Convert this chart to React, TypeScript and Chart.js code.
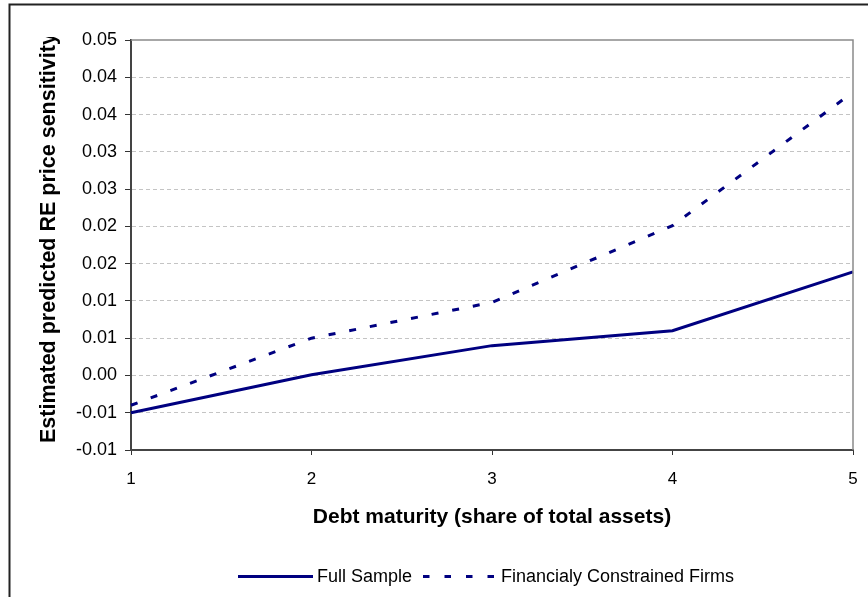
import React, { useEffect, useRef } from "react";
import { Chart, registerables } from "chart.js";

Chart.register(...registerables);

const categories = ["1", "2", "3", "4", "5"];
const fullSample = [-0.005, 0.0001, 0.004, 0.006, 0.0139];
const constrainedFirms = [-0.004, 0.005, 0.0098, 0.0201, 0.038];
const yTickLabels = ["-0.01", "-0.01", "0.00", "0.01", "0.01", "0.02", "0.02", "0.03", "0.03", "0.04", "0.04", "0.05"];
const seriesNames = ["Full Sample", "Financialy Constrained Firms"];
const xTitle = "Debt maturity (share of total assets)";
const yTitle = "Estimated predicted RE price sensitivity";

const NAVY = "#000080";
const FONT = "'Liberation Sans', Arial, sans-serif";

const decorPlugin = {
  id: "decor",
  afterDraw(chart: any) {
    const ctx = chart.ctx as CanvasRenderingContext2D;
    const ca = chart.chartArea;
    ctx.save();
    // plot frame (top & right)
    ctx.strokeStyle = "#8a8a8a";
    ctx.lineWidth = 1.5;
    ctx.beginPath();
    ctx.moveTo(ca.left, ca.top);
    ctx.lineTo(ca.right, ca.top);
    ctx.lineTo(ca.right, ca.bottom);
    ctx.stroke();
    // outer frame (left & top)
    ctx.strokeStyle = "#222";
    ctx.lineWidth = 2;
    ctx.beginPath();
    ctx.moveTo(9.5, 597);
    ctx.lineTo(9.5, 4.5);
    ctx.lineTo(868, 4.5);
    ctx.stroke();

    // x title
    ctx.fillStyle = "#000";
    ctx.font = `bold 21px ${FONT}`;
    ctx.textAlign = "center";
    ctx.textBaseline = "alphabetic";
    ctx.fillText(xTitle, (ca.left + ca.right) / 2, 523);

    // y title (clipped at top)
    ctx.save();
    ctx.beginPath();
    ctx.rect(0, 37, 125, 560);
    ctx.clip();
    ctx.font = `bold 21.5px ${FONT}`;
    ctx.translate(55, 443);
    ctx.rotate(-Math.PI / 2);
    ctx.textAlign = "left";
    ctx.fillText(yTitle, 0, 0);
    ctx.restore();

    // legend
    const ly = 576.5;
    ctx.strokeStyle = NAVY;
    ctx.lineWidth = 3;
    ctx.beginPath();
    ctx.moveTo(238, ly);
    ctx.lineTo(313, ly);
    ctx.stroke();
    ctx.setLineDash([6.5, 15]);
    ctx.beginPath();
    ctx.moveTo(423, ly);
    ctx.lineTo(494, ly);
    ctx.stroke();
    ctx.setLineDash([]);
    ctx.font = `18px ${FONT}`;
    ctx.textAlign = "left";
    ctx.fillStyle = "#000";
    ctx.fillText(chart.data.datasets[0].label, 317, 581.5);
    ctx.fillText(chart.data.datasets[1].label, 501, 581.5);
    ctx.restore();
  },
};

export default function App() {
  const ref = useRef<HTMLCanvasElement | null>(null);
  useEffect(() => {
    if (!ref.current) return;
    const chart = new Chart(ref.current, {
      type: "line",
      data: {
        labels: categories,
        datasets: [
          {
            label: seriesNames[0],
            data: fullSample,
            borderColor: NAVY,
            borderWidth: 3,
            pointRadius: 0,
            tension: 0,
            fill: false,
          },
          {
            label: seriesNames[1],
            data: constrainedFirms,
            borderColor: NAVY,
            borderWidth: 3,
            borderDash: [7, 14],
            pointRadius: 0,
            tension: 0,
            fill: false,
          },
        ],
      },
      options: {
        animation: false,
        responsive: false,
        maintainAspectRatio: false,
        layout: { padding: { left: 0, right: 15, top: 40, bottom: 0 } },
        plugins: {
          legend: { display: false },
          title: { display: false },
          tooltip: { enabled: false },
        },
        scales: {
          x: {
            type: "category",
            offset: false,
            grid: {
              display: true,
              drawOnChartArea: false,
              drawTicks: true,
              tickLength: 5,
              tickColor: "#333",
            },
            border: { display: true, color: "#444", width: 2 },
            ticks: {
              color: "#000",
              font: { family: FONT, size: 17 },
              padding: 14,
              maxRotation: 0,
            },
            afterFit: (s: any) => {
              s.height = 147;
              s.paddingLeft = 0;
              s.paddingRight = 0;
            },
          },
          y: {
            min: -0.01,
            max: 0.045,
            grid: {
              color: (c: any) => {
                const n = yTickLabels.length - 1;
                return c.index === 0 || c.index === n ? "rgba(0,0,0,0)" : "#c4c4c4";
              },
              lineWidth: 1,
              tickLength: 6,
              tickColor: "#333",
              tickBorderDash: [],
            },
            border: { display: true, color: "#444", width: 2, dash: [4, 3] },
            ticks: {
              stepSize: 0.005,
              color: "#000",
              font: { family: FONT, size: 18 },
              padding: 8,
              callback: (_v: any, i: number) => yTickLabels[i] ?? "",
            },
            afterFit: (s: any) => {
              s.width = 131;
            },
          },
        },
      },
      plugins: [decorPlugin],
    });
    return () => chart.destroy();
  }, []);
  return (
    <div style={{ position: "absolute", left: 0, top: 0, width: 868, height: 597, background: "#fff" }}>
      <canvas ref={ref} width={868} height={597} style={{ display: "block" }} />
    </div>
  );
}
